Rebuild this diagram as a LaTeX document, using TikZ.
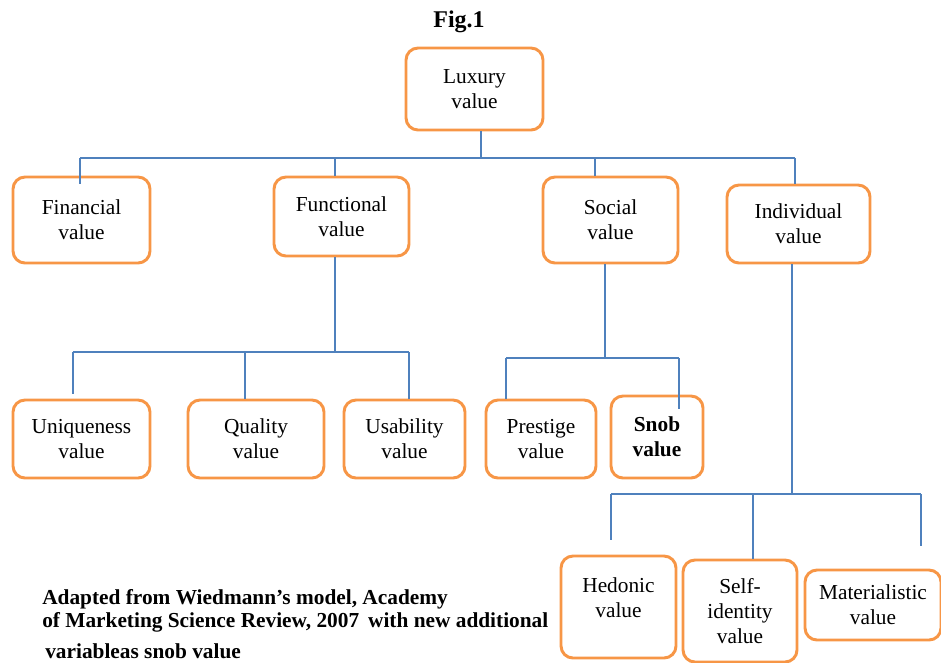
\documentclass[tikz,border=0pt]{standalone}
\usepackage{fontspec}
\setmainfont{Liberation Serif}
\definecolor{boxorange}{HTML}{F79646}
\definecolor{linkblue}{HTML}{4F81BD}

\begin{document}
\begin{tikzpicture}[x=0.75pt, y=-0.75pt,
  valbox/.style={align=center, draw=boxorange, line width=2.2pt, rounded corners=9pt,
    fill=white, inner sep=2pt, font=\fontsize{16}{19}\selectfont},
  link/.style={draw=linkblue, line width=1.1pt},
  note/.style={anchor=base west, inner sep=0pt, font=\fontsize{16}{19}\selectfont\bfseries}]
\useasboundingbox (0,0) rectangle (941,662);

\node[font=\fontsize{18}{21}\selectfont\bfseries] (fig) at (459, 22) {Fig.1};

\node[valbox, minimum width=102.75pt, minimum height=61.5pt] (lux) at (474.5, 89) {Luxury\\value};
\node[valbox, minimum width=102.75pt, minimum height=64.5pt] (fin) at (81.5, 220) {Financial\\value};
\node[valbox, minimum width=101.25pt, minimum height=59.25pt] (func) at (341.5, 216.5) {Functional\\value};
\node[valbox, minimum width=101.25pt, minimum height=64.5pt] (soc) at (610.5, 220) {Social\\value};
\node[valbox, minimum width=107.25pt, minimum height=58.5pt] (ind) at (798.5, 224) {Individual\\value};
\node[valbox, minimum width=102.75pt, minimum height=58.5pt] (uniq) at (81.5, 439) {Uniqueness\\value};
\node[valbox, minimum width=102pt, minimum height=58.5pt] (qual) at (256, 439) {Quality\\value};
\node[valbox, minimum width=90.75pt, minimum height=58.5pt] (usab) at (404.5, 439) {Usability\\value};
\node[valbox, minimum width=82.5pt, minimum height=58.5pt] (prest) at (541, 439) {Prestige\\value};
\node[valbox, minimum width=69pt, minimum height=61.5pt] (snob) at (657, 437) {\textbf{Snob}\\\textbf{value}};
\node[valbox, minimum width=86.25pt, minimum height=76.5pt] (hed) at (618.5, 607) {Hedonic\\value\\[-5pt]};
\node[valbox, minimum width=85.5pt, minimum height=76.5pt] (self) at (740, 611) {Self-\\identity\\value};
\node[valbox, minimum width=102pt, minimum height=52.5pt] (mat) at (873, 605) {Materialistic\\value};

% bus lines
\coordinate (bus1) at (0, 158);
\coordinate (bus2) at (0, 352);
\coordinate (bus3) at (0, 358);
\coordinate (bus4) at (0, 494);

% luxury to first level
\draw[link] ([xshift=4.9pt]lux.south) -- ([xshift=4.9pt]lux.south |- bus1);
\draw[link] ([xshift=-1.1pt]fin.north |- bus1) -- ([xshift=-2.6pt]ind.north |- bus1);
\draw[link] ([xshift=-1.1pt]fin.north |- bus1) -- ([shift={(-1.1pt,-6pt)}]fin.north);
\draw[link] ([xshift=-4.9pt]func.north |- bus1) -- ([xshift=-4.9pt]func.north);
\draw[link] ([xshift=-11.6pt]soc.north |- bus1) -- ([xshift=-11.6pt]soc.north);
\draw[link] ([xshift=-2.6pt]ind.north |- bus1) -- ([xshift=-2.6pt]ind.north);

% functional
\draw[link] ([xshift=-4.9pt]func.south) -- ([xshift=-4.9pt]func.south |- bus2);
\draw[link] ([xshift=-6.4pt]uniq.north |- bus2) -- ([xshift=3.4pt]usab.north |- bus2);
\draw[link] ([xshift=-6.4pt]uniq.north |- bus2) -- ([shift={(-6.4pt,3.75pt)}]uniq.north);
\draw[link] ([xshift=-8.25pt]qual.north |- bus2) -- ([xshift=-8.25pt]qual.north);
\draw[link] ([xshift=3.4pt]usab.north |- bus2) -- ([xshift=3.4pt]usab.north);

% social
\draw[link] ([xshift=-4.1pt]soc.south) -- ([xshift=-4.1pt]soc.south |- bus3);
\draw[link] ([xshift=-26.25pt]prest.north |- bus3) -- ([xshift=16.5pt]snob.north |- bus3);
\draw[link] ([xshift=-26.25pt]prest.north |- bus3) -- ([xshift=-26.25pt]prest.north);
\draw[link] ([xshift=16.5pt]snob.north |- bus3) -- ([shift={(16.5pt,-10.5pt)}]snob.north);

% individual
\draw[link] ([xshift=-4.9pt]ind.south) -- ([xshift=-4.9pt]ind.south |- bus4);
\draw[link] ([xshift=-5.6pt]hed.north |- bus4) -- ([xshift=36pt]mat.north |- bus4);
\draw[link] ([xshift=-5.6pt]hed.north |- bus4) -- ([shift={(-5.6pt,11.25pt)}]hed.north);
\draw[link] ([xshift=9.75pt]self.north |- bus4) -- ([xshift=9.75pt]self.north);
\draw[link] ([xshift=36pt]mat.north |- bus4) -- ([shift={(36pt,17.25pt)}]mat.north);

\node[note] (cap1) at (42, 604) {Adapted from Wiedmann’s model, Academy};
\node[note] (cap2) at (42, 627) {of Marketing Science Review, 2007\, with new additional};
\node[note] (cap3) at (45, 658) {variableas snob value};
\end{tikzpicture}
\end{document}
